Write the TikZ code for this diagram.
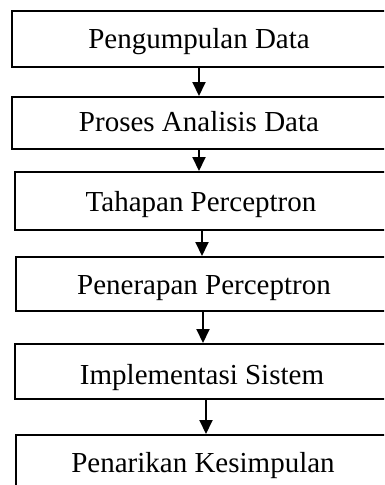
\documentclass[tikz,border=0pt]{standalone}
\usepackage{fontspec}
\setmainfont{Liberation Serif}
\usetikzlibrary{arrows.meta}
\begin{document}
\begin{tikzpicture}[x=1pt,y=-1pt,
  stepbox/.style={draw=black, line width=1.6pt, rectangle, inner sep=0pt, anchor=north west},
  steptext/.style={anchor=base, inner sep=0pt, font=\fontsize{29}{34}\selectfont},
  flow/.style={line width=2pt, -{Triangle[width=13pt,length=14pt]}}]
  \useasboundingbox (0,0) rectangle (384,485);
  \clip (0,0) rectangle (384,485);
  % boxes (right edges run past the page edge)
  \node[stepbox, minimum width=382pt, minimum height=56pt] (b1) at (11,10) {};
  \node[stepbox, minimum width=382pt, minimum height=52pt] (b2) at (11,96) {};
  \node[stepbox, minimum width=379pt, minimum height=58pt] (b3) at (14,171) {};
  \node[stepbox, minimum width=378pt, minimum height=54pt] (b4) at (15,256) {};
  \node[stepbox, minimum width=379pt, minimum height=55pt] (b5) at (14,343) {};
  \node[stepbox, minimum width=378pt, minimum height=60pt] (b6) at (15,434) {};
  % labels
  \node[steptext] (t1) at (199,48) {Pengumpulan Data};
  \node[steptext] (t2) at (199,131) {Proses Analisis Data};
  \node[steptext] (t3) at (201,211) {Tahapan Perceptron};
  \node[steptext] (t4) at (204,294) {Penerapan Perceptron};
  \node[steptext] (t5) at (202,384) {Implementasi Sistem};
  \node[steptext] (t6) at (203,472) {Penarikan Kesimpulan};
  % connectors
  \draw[flow] (b1.south -| 199,0) -- (b2.north -| 199,0);
  \draw[flow] (b2.south -| 199,0) -- (b3.north -| 199,0);
  \draw[flow] (b3.south -| 202,0) -- (b4.north -| 202,0);
  \draw[flow] (b4.south -| 203,0) -- (b5.north -| 203,0);
  \draw[flow] (b5.south -| 206,0) -- (b6.north -| 206,0);
\end{tikzpicture}
\end{document}
